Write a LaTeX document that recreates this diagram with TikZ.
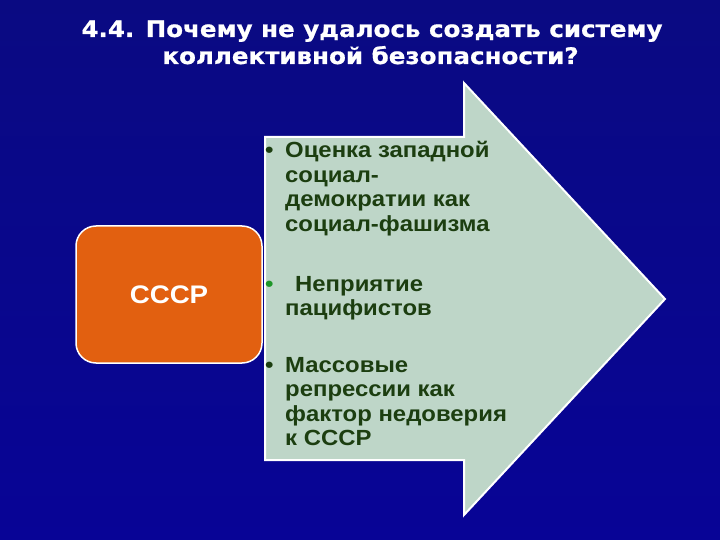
\documentclass[tikz,border=0pt]{standalone}
\usepackage{fontspec}
\setmainfont{Liberation Sans}[FakeStretch=1.09]
\newfontfamily\titlefont{DejaVu Sans}[FakeStretch=1.08,BoldFeatures={FakeBold=0.8}]
\definecolor{bgtop}{RGB}{10,10,130}
\definecolor{bgbottom}{RGB}{8,4,150}
\definecolor{arrowfill}{RGB}{190,214,200}
\definecolor{boxorange}{RGB}{226,96,16}
\definecolor{txtgreen}{RGB}{28,62,16}
\definecolor{bulgreen}{RGB}{30,150,40}
\tikzset{
  titletext/.style={text=white,font=\titlefont\bfseries\fontsize{22.8}{27}\selectfont,inner sep=0pt},
  bodyline/.style={text=txtgreen,font=\bfseries\fontsize{22}{24.5}\selectfont,inner sep=0pt,anchor=base west},
  bulletmark/.style={font=\bfseries\fontsize{22}{24.5}\selectfont,inner sep=0pt,anchor=base west},
}
\begin{document}
\begin{tikzpicture}[x=1bp,y=-1bp]
\useasboundingbox (0,0) rectangle (720,540);
\shade[top color=bgtop,bottom color=bgbottom] (0,0) rectangle (720,540);
% title
\node[titletext,anchor=base] (t1) at (372,37) {4.4. Почему не удалось создать систему};
\node[titletext,anchor=base] (t2) at (370.5,64) {коллективной безопасности?};
% arrow
\filldraw[fill=arrowfill,draw=white,line width=2bp,line join=miter]
  (265,137) -- (464,137) -- (464,83) -- (665,299) -- (464,515) -- (464,460) -- (265,460) -- cycle;
% orange box
\node[draw=white,line width=1.5bp,fill=boxorange,rounded corners=20bp,
  minimum width=186bp,minimum height=137bp,inner sep=0pt,text=white,
  font=\bfseries\fontsize{25.5}{30}\selectfont] (ussr) at (169,294.5) {СССР};
% bullet 1
\node[bulletmark,text=txtgreen] (b1) at (265,158) {•};
\node[bodyline] (l11) at (285,158) {Оценка западной};
\node[bodyline] (l12) at (285,182.5) {социал-};
\node[bodyline] (l13) at (285,207) {демократии как};
\node[bodyline] (l14) at (285,231.5) {социал-фашизма};
% bullet 2
\node[bulletmark,text=bulgreen] (b2) at (265,291) {•};
\node[bodyline] (l21) at (295,291) {Неприятие};
\node[bodyline] (l22) at (285,315.5) {пацифистов};
% bullet 3
\node[bulletmark,text=txtgreen] (b3) at (265,372) {•};
\node[bodyline] (l31) at (285,372) {Массовые};
\node[bodyline] (l32) at (285,396.5) {репрессии как};
\node[bodyline] (l33) at (285,421) {фактор недоверия};
\node[bodyline] (l34) at (285,445.5) {к СССР};
\end{tikzpicture}
\end{document}
